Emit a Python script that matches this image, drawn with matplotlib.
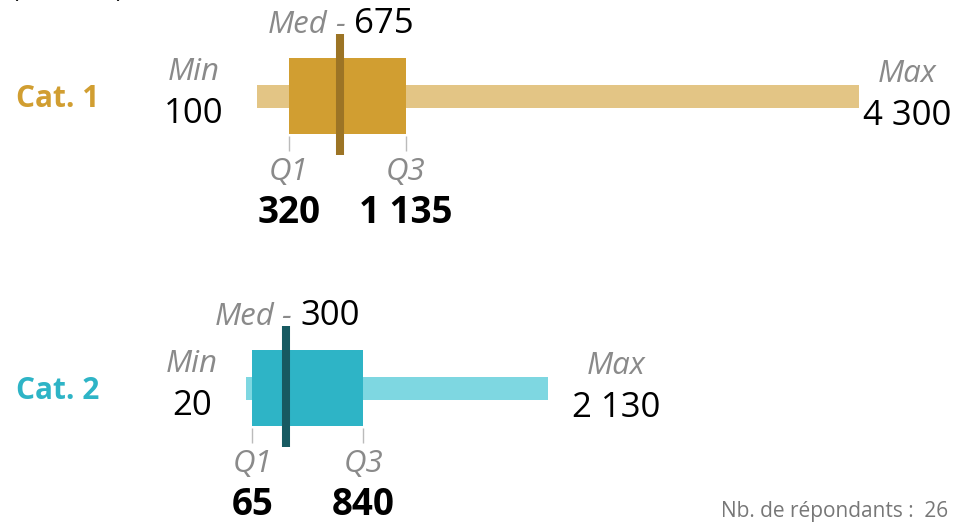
import matplotlib
matplotlib.use("Agg")
import matplotlib.pyplot as plt

# data
categories = ["Cat. 1", "Cat. 2"]
mins = [100, 20]
q1s = [320, 65]
medians = [675, 300]
q3s = [1135, 840]
maxs = [4300, 2130]
n_respondents = 26

box_colors = ["#D19E31", "#2EB4C6"]
whisker_colors = ["#E3C585", "#7ED7E1"]
median_colors = ["#9C7425", "#175A61"]

W, H = 955, 527
ZERO_PX = 243.0        # pixel position of value 0
PX_PER_UNIT = 0.1433
U = 1 / PX_PER_UNIT    # one pixel in data units
ROW_Y = [96, 388]
GRAY = "#8A8A8A"
FONT = "Open Sans"


def fmt(v):
    return f"{v:,}".replace(",", " ")


fig = plt.figure(figsize=(W / 100, H / 100), dpi=100)
ax = fig.add_axes([0, 0, 1, 1])
ax.set_xlim(-ZERO_PX * U, (W - ZERO_PX) * U)
ax.set_ylim(H, 0)
ax.axis("off")
renderer = fig.canvas.get_renderer()


def text_width(s, **kw):
    t = ax.text(0, 0, s, **kw)
    w = t.get_window_extent(renderer).width
    t.remove()
    return w


num_kw = dict(fontsize=25, family=FONT, color="black")
lab_kw = dict(fontsize=22.5, family=FONT, style="italic", color=GRAY)
bold_kw = dict(fontsize=26.5, family=FONT, weight="bold", color="black")

for i, cat in enumerate(categories):
    y = ROW_Y[i]
    # whisker bar and box
    ax.barh(y, maxs[i] - mins[i], left=mins[i], height=23, color=whisker_colors[i], zorder=1)
    ax.barh(y, q3s[i] - q1s[i], left=q1s[i], height=76, color=box_colors[i], zorder=2)
    ax.vlines(medians[i], y - 62, y + 59, color=median_colors[i], lw=5.8, zorder=3)
    ax.vlines([q1s[i], q3s[i]], y + 40, y + 55, color="#BBBBBB", lw=1, zorder=1)

    # category label
    ax.text(16 * U - ZERO_PX * U, y + 3, cat, fontsize=21.5, family=FONT, weight="bold",
            color=box_colors[i], ha="left", va="center")

    # min label
    w = text_width(fmt(mins[i]), **num_kw)
    cx = mins[i] - (34 + w / 2) * U
    ax.text(cx, y - 24, "Min", ha="center", va="center", **lab_kw)
    ax.text(cx, y + 18, fmt(mins[i]), ha="center", va="center", **num_kw)

    # max label
    w = text_width(fmt(maxs[i]), **num_kw)
    cx = min(maxs[i] + 68 * U, (951 - w / 2 - ZERO_PX) * U)
    ax.text(cx, y - 22, "Max", ha="center", va="center", **lab_kw)
    ax.text(cx, y + 20, fmt(maxs[i]), ha="center", va="center", **num_kw)

    # median label
    ty = y - 63
    ax.text(medians[i] - 12 * U, ty, "Med", ha="right", va="baseline", **lab_kw)
    ax.text(medians[i], ty, "-", ha="center", va="baseline", **lab_kw)
    ax.text(medians[i] + 14 * U, ty, fmt(medians[i]), ha="left", va="baseline", **num_kw)

    # quartile labels
    for q, name in ((q1s[i], "Q1"), (q3s[i], "Q3")):
        ax.text(q, y + 76, name, ha="center", va="center", **lab_kw)
        ax.text(q, y + 117, fmt(q), ha="center", va="center", **bold_kw)

# unit caption cut at the top
ax.text(12 * U - ZERO_PX * U, 3, "(en euros)", fontsize=17, family=FONT,
        color="black", ha="left", va="bottom")

ax.text((948 - ZERO_PX) * U, 517, f"Nb. de répondants :  {n_respondents}", fontsize=15,
        family=FONT, color="#777777", ha="right", va="baseline")

fig.savefig("out.png", dpi=100)
